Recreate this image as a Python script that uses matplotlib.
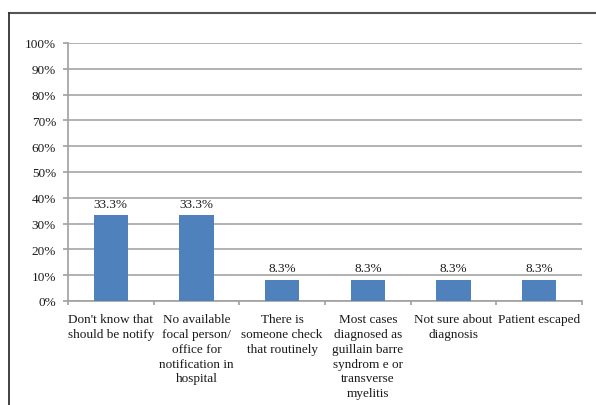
import matplotlib
matplotlib.use("Agg")
import matplotlib.pyplot as plt
from matplotlib.lines import Line2D
from matplotlib.ticker import PercentFormatter

categories = [
    "Don't know that\nshould be notify",
    "No available\nfocal person/\noffice for\nnotification in\nhospital",
    "There is\nsomeone check\nthat routinely",
    "Most cases\ndiagnosed as\nguillain barre\nsyndrom e or\ntransverse\nmyelitis",
    "Not sure about\ndiagnosis",
    "Patient escaped",
]
values = [33.3, 33.3, 8.3, 8.3, 8.3, 8.3]
value_labels = ["33.3%", "33.3%", "8.3%", "8.3%", "8.3%", "8.3%"]
yticks = [0, 10, 20, 30, 40, 50, 60, 70, 80, 90, 100]

plt.rcParams['font.family'] = ['Liberation Serif', 'DejaVu Serif']
text_color = "#1a1a1a"

W, H = 596, 406
fig = plt.figure(figsize=(W / 100, H / 100), dpi=100)
fig.patch.set_facecolor("white")

# outer frame (top and left edges visible)
fig.add_artist(Line2D([9 / W, 1.0], [1 - 14 / H, 1 - 14 / H], color="#555555", lw=1.5, transform=fig.transFigure))
fig.add_artist(Line2D([9 / W, 9 / W], [0.0, 1 - 14 / H], color="#333333", lw=1.3, transform=fig.transFigure))

left, right = 68 / W, 582 / W
bottom, top = 1 - 302 / H, 1 - 44 / H
ax = fig.add_axes([left, bottom, right - left, top - bottom])

x = list(range(len(categories)))
ax.bar(x, values, width=0.4, color="#4F81BD", zorder=3)
for xi, v, lab in zip(x, values, value_labels):
    ax.annotate(lab, (xi, v), xytext=(0, 4), textcoords="offset points",
                ha="center", va="bottom", fontsize=9.5, color=text_color)

ax.set_xlim(-0.5, len(categories) - 0.5)
ax.set_ylim(0, 100)
ax.set_yticks(yticks)
ax.yaxis.set_major_formatter(PercentFormatter(decimals=0))
ax.grid(axis="y", color="#A6A6A6", lw=1.2, zorder=0)
ax.set_axisbelow(True)

for s in ["top", "right"]:
    ax.spines[s].set_visible(False)
ax.spines["left"].set_color("#A0A0A0")
ax.spines["bottom"].set_color("#A0A0A0")
ax.spines["left"].set_linewidth(1.2)
ax.spines["bottom"].set_linewidth(1.2)

ax.tick_params(axis="y", length=3.6, width=1.2, color="#A0A0A0", labelsize=9.5,
               labelcolor=text_color, pad=5)
# x ticks at category boundaries
ax.set_xticks([i - 0.5 for i in range(len(categories) + 1)])
ax.set_xticklabels([])
ax.tick_params(axis="x", length=3, width=1.2, color="#A0A0A0")
for xi, lab in zip(x, categories):
    ax.annotate(lab, (xi, 0), xycoords=("data", "axes fraction"),
                xytext=(0, -9), textcoords="offset points",
                ha="center", va="top", fontsize=9.5, color=text_color,
                linespacing=1.3)

fig.savefig("out.png", dpi=100)
